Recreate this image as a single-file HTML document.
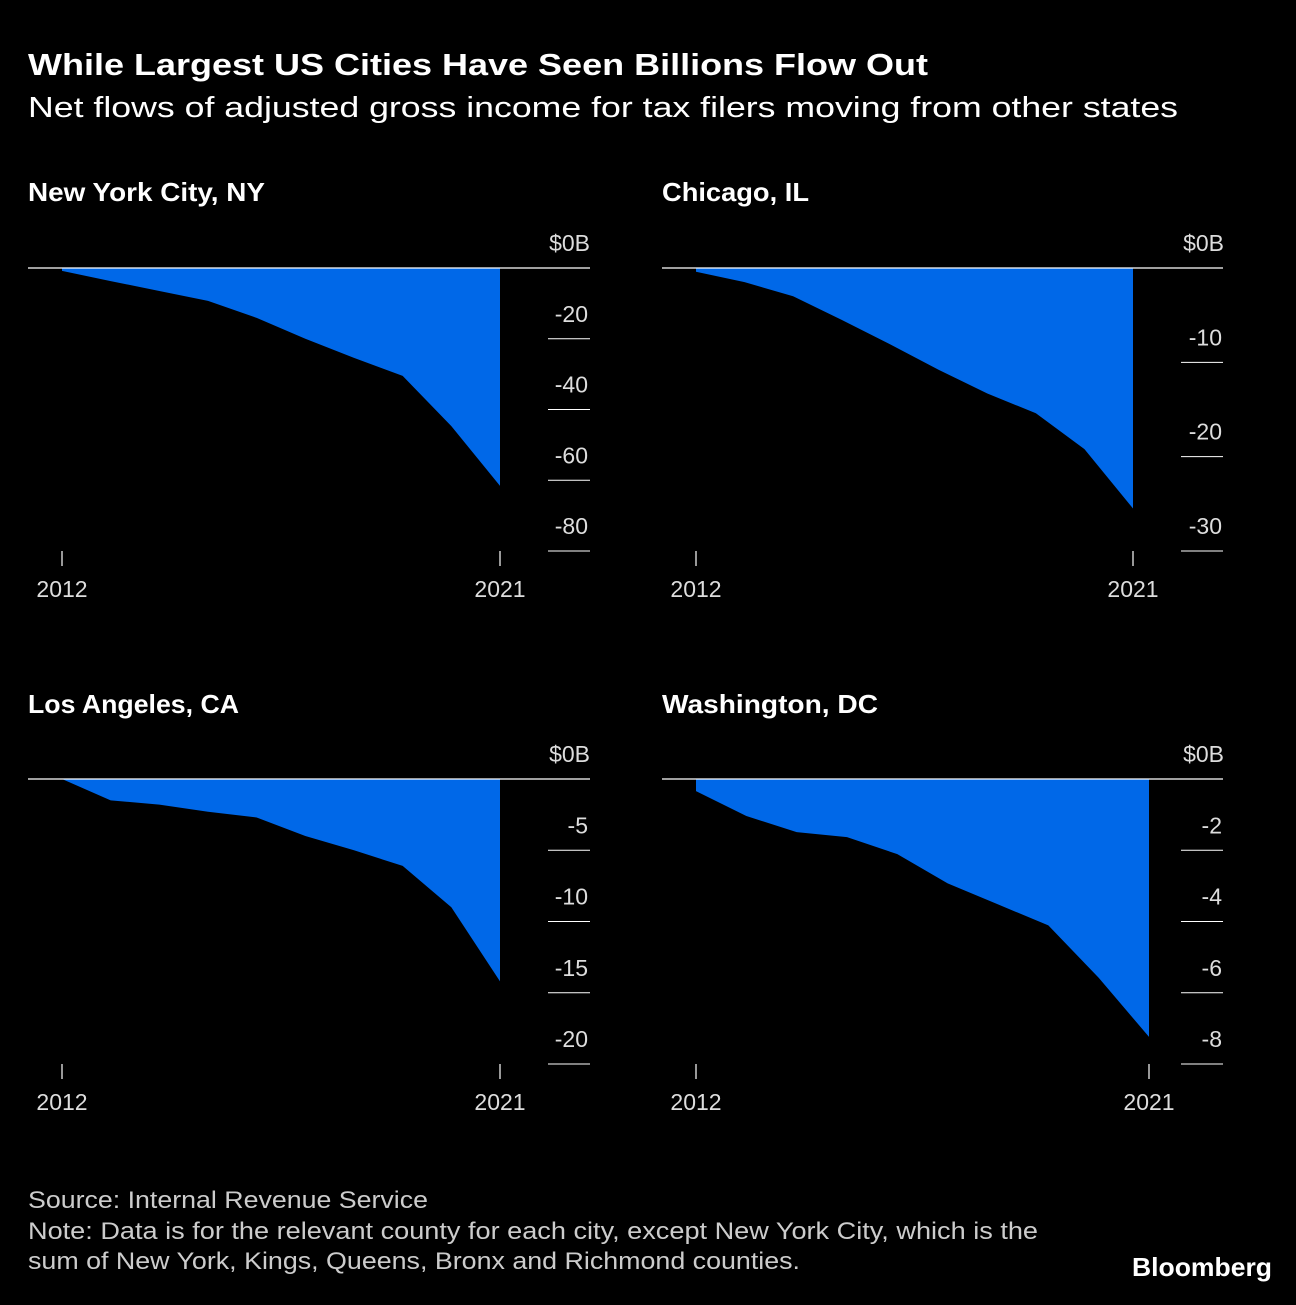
<!DOCTYPE html>
<html><head><meta charset="utf-8"><style>
body{margin:0;background:#000;width:1296px;height:1300px;overflow:hidden;font-family:"Liberation Sans",sans-serif;color:#fff}
svg text{font-family:"Liberation Sans",sans-serif}
</style></head><body>
<svg id="c" width="1296" height="1300">
<text x="28" y="75" font-size="31" font-weight="bold" fill="#fff" textLength="900" lengthAdjust="spacingAndGlyphs">While Largest US Cities Have Seen Billions Flow Out</text>
<text x="28" y="117" font-size="29" fill="#fff" textLength="1150" lengthAdjust="spacingAndGlyphs">Net flows of adjusted gross income for tax filers moving from other states</text>
<text x="28" y="1208" font-size="24" fill="#ccc" textLength="400" lengthAdjust="spacingAndGlyphs">Source: Internal Revenue Service</text>
<text x="28" y="1239" font-size="24" fill="#ccc" textLength="1010" lengthAdjust="spacingAndGlyphs">Note: Data is for the relevant county for each city, except New York City, which is the</text>
<text x="28" y="1269" font-size="24" fill="#ccc" textLength="772" lengthAdjust="spacingAndGlyphs">sum of New York, Kings, Queens, Bronx and Richmond counties.</text>
<text x="1132" y="1276" font-size="26" font-weight="bold" fill="#fff" textLength="140" lengthAdjust="spacingAndGlyphs">Bloomberg</text>
</svg>
<script>
const years=[2012,2013,2014,2015,2016,2017,2018,2019,2020,2021];
const nycValues=[-0.8,-3.7,-6.5,-9.3,-14.1,-20,-25.4,-30.5,-44.7,-61.6];
const chiValues=[-0.4,-1.5,-3,-5.5,-8.1,-10.8,-13.3,-15.4,-19.2,-25.5];
const laValues=[0,-1.5,-1.8,-2.3,-2.7,-4,-5,-6.1,-9,-14.2];
const dcValues=[-0.34,-1.04,-1.49,-1.63,-2.11,-2.93,-3.52,-4.11,-5.58,-7.24];
const nycTicks=[-20,-40,-60,-80];
const chiTicks=[-10,-20,-30];
const laTicks=[-5,-10,-15,-20];
const dcTicks=[-2,-4,-6,-8];
const titles=["New York City, NY","Chicago, IL","Los Angeles, CA","Washington, DC"];
const titleWidths=[237,147,211,216];
const svg=document.getElementById('c');
const NS="http://www.w3.org/2000/svg";
function mk(t,a){const e=document.createElementNS(NS,t);for(const k in a)e.setAttribute(k,a[k]);svg.appendChild(e);return e;}
function panel(title,tw,vals,ticks,minV,x0,x1,y0,yMin,axisR,lblX,top,name){
  const xs=i=>x0+(x1-x0)*(years[i]-years[0])/(years[years.length-1]-years[0]);
  const ys=v=>y0+(yMin-y0)*(v/minV);
  let t=mk('text',{x:28+(x0-62),y:top,'font-size':26,'font-weight':'bold',fill:'#fff',textLength:tw,lengthAdjust:'spacingAndGlyphs'});t.textContent=title;
  
  
  let d='M'+xs(0)+','+y0;
  vals.forEach((v,i)=>{d+=' L'+xs(i)+','+ys(v);});
  d+=' L'+xs(vals.length-1)+','+y0+' Z';
  const a=mk('path',{d:d,fill:'#0068e8'});
  
  
  const b=mk('line',{x1:x0-34,x2:axisR,y1:y0,y2:y0,stroke:'#fff','stroke-width':1.2});
  
  
  let z=mk('text',{x:lblX,y:y0-17,'font-size':23,fill:'#ddd','text-anchor':'end'});z.textContent='$0B';
  
  
  ticks.forEach(tv=>{const y=ys(tv);
    const l=mk('line',{x1:axisR-42,x2:axisR,y1:y,y2:y,stroke:'#fff','stroke-width':1});
    
    
    const tx=mk('text',{x:lblX-2,y:y-17,'font-size':23,fill:'#ddd','text-anchor':'end'});tx.textContent=String(tv);
    
    
  });
  [0,years.length-1].forEach(i=>{
    const l=mk('line',{x1:xs(i),x2:xs(i),y1:yMin,y2:yMin+15,stroke:'#fff','stroke-width':1.2});
    
    
    const tx=mk('text',{x:xs(i),y:yMin+46,'font-size':23,fill:'#ddd','text-anchor':'middle'});tx.textContent=years[i];
    
    
  });
}
panel(titles[0],titleWidths[0],nycValues,nycTicks,-80,62,500,268,551,590,590,201,'nyc');
panel(titles[1],titleWidths[1],chiValues,chiTicks,-30,696,1133,268,551,1223,1224,201,'chicago');
panel(titles[2],titleWidths[2],laValues,laTicks,-20,62,500,779,1064,590,590,713,'los-angeles');
panel(titles[3],titleWidths[3],dcValues,dcTicks,-8,696,1149,779,1064,1223,1224,713,'washington');
</script>
</body></html>
